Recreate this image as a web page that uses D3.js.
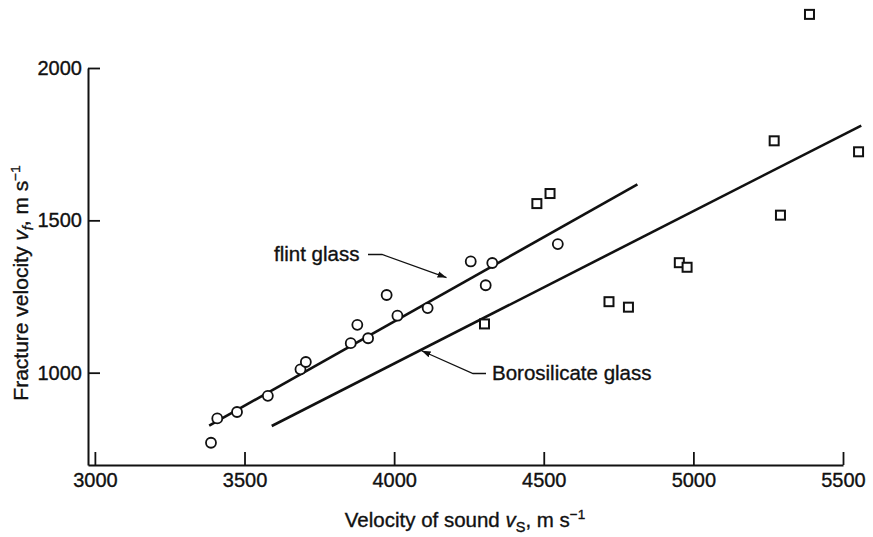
<!DOCTYPE html>
<html>
<head>
<meta charset="utf-8">
<script src="https://cdn.jsdelivr.net/npm/d3@7"></script>
<style>
  html, body { margin: 0; padding: 0; background: #fff; }
  svg text { font-family: "Liberation Sans", Arial, Helvetica, sans-serif; fill: #111; stroke: #111; stroke-width: 0.35px; }
</style>
</head>
<body>
<svg id="chart" width="873" height="537"></svg>
<script>
// ---- data ----
const flintX = [3388, 3409, 3475, 3578, 3687, 3705, 3855, 3877, 3913, 3975, 4011, 4112, 4256, 4328, 4306, 4547];
const flintY = [770, 850, 871, 924, 1011, 1035, 1097, 1157, 1113, 1255, 1187, 1212, 1365, 1360, 1287, 1422];
const boroX = [4302, 4477, 4521, 4718, 4783, 4953, 4979, 5270, 5291, 5388, 5552];
const boroY = [1160, 1555, 1588, 1233, 1215, 1361, 1346, 1761, 1517, 2176, 1725];
const flintFitX = [3382, 4813];
const flintFitY = [826, 1618];
const boroFitX = [3591, 5561];
const boroFitY = [825, 1811];
const xTicks = [3000, 3500, 4000, 4500, 5000, 5500];
const yTicks = [1000, 1500, 2000];

const svg = d3.select("#chart");
const x = d3.scaleLinear().domain([2977, 5500]).range([88, 843]);
const y = d3.scaleLinear().domain([697, 2000]).range([465, 68]);

// axes
const gx = svg.append("g").attr("transform", `translate(0,${y(697)})`)
  .call(d3.axisBottom(x).tickValues(xTicks).tickFormat(d3.format("d"))
    .tickSizeInner(-13).tickSizeOuter(0).tickPadding(8));
const gy = svg.append("g").attr("transform", `translate(${x(2977)},0)`)
  .call(d3.axisLeft(y).tickValues(yTicks).tickFormat(d3.format("d"))
    .tickSizeInner(-12).tickSizeOuter(0).tickPadding(6));
[gx, gy].forEach(g => {
  g.select(".domain").attr("stroke", "#111").attr("stroke-width", 2);
  g.selectAll(".tick line").attr("stroke", "#111").attr("stroke-width", 1.8);
  g.selectAll(".tick text").attr("font-size", 20).attr("fill", "#111")
    .style("font-family", "'Liberation Sans', Arial, sans-serif");
});

// fit lines
const line = d3.line().x(d => x(d[0])).y(d => y(d[1]));
svg.append("path").datum(d3.zip(flintFitX, flintFitY)).attr("d", line)
  .attr("fill", "none").attr("stroke", "#111").attr("stroke-width", 2.6);
svg.append("path").datum(d3.zip(boroFitX, boroFitY)).attr("d", line)
  .attr("fill", "none").attr("stroke", "#111").attr("stroke-width", 2.6);

// points
svg.append("g").selectAll("circle").data(d3.zip(flintX, flintY)).join("circle")
  .attr("cx", d => x(d[0])).attr("cy", d => y(d[1])).attr("r", 5)
  .attr("fill", "#fff").attr("stroke", "#111").attr("stroke-width", 1.8);
svg.append("g").selectAll("rect").data(d3.zip(boroX, boroY)).join("rect")
  .attr("x", d => x(d[0]) - 4.5).attr("y", d => y(d[1]) - 4.5)
  .attr("width", 9).attr("height", 9)
  .attr("fill", "#fff").attr("stroke", "#111").attr("stroke-width", 2);

// annotations
const defs = svg.append("defs");
defs.append("marker").attr("id", "arr").attr("viewBox", "0 0 10 10")
  .attr("refX", 10).attr("refY", 5).attr("markerWidth", 9).attr("markerHeight", 9)
  .attr("markerUnits", "userSpaceOnUse").attr("orient", "auto")
  .append("path").attr("d", "M0,1.5 L10,5 L0,8.5 Z").attr("fill", "#111");

svg.append("text").attr("x", 274).attr("y", 261).attr("font-size", 20.5).text("flint glass");
svg.append("path").attr("d", `M368,254.5 L382,254.5 L${x(4175)},${y(1312)}`)
  .attr("fill", "none").attr("stroke", "#111").attr("stroke-width", 1.3).attr("marker-end", "url(#arr)");

svg.append("text").attr("x", 492).attr("y", 380).attr("font-size", 20.5).text("Borosilicate glass");
svg.append("path").attr("d", `M486,373.5 L473,373.5 L${x(4092)},${y(1072)}`)
  .attr("fill", "none").attr("stroke", "#111").attr("stroke-width", 1.3).attr("marker-end", "url(#arr)");

// axis titles
const xt = svg.append("text").attr("x", 465).attr("y", 527).attr("text-anchor", "middle").attr("font-size", 20.5);
xt.append("tspan").text("Velocity of sound ");
xt.append("tspan").attr("font-style", "italic").text("v");
xt.append("tspan").attr("font-size", 14.5).attr("dy", 5).text("S");
xt.append("tspan").attr("dy", -5).text(", m s");
xt.append("tspan").attr("font-size", 13.5).attr("dy", -8).text("\u22121");

const yt = svg.append("text").attr("transform", "translate(28,283) rotate(-90)")
  .attr("text-anchor", "middle").attr("font-size", 21);
yt.append("tspan").text("Fracture velocity ");
yt.append("tspan").attr("font-style", "italic").text("v");
yt.append("tspan").attr("font-size", 14.5).attr("font-style", "italic").attr("dy", 5).text("f");
yt.append("tspan").attr("dy", -5).text(", m s");
yt.append("tspan").attr("font-size", 13.5).attr("dy", -8).text("\u22121");
</script>
</body>
</html>
